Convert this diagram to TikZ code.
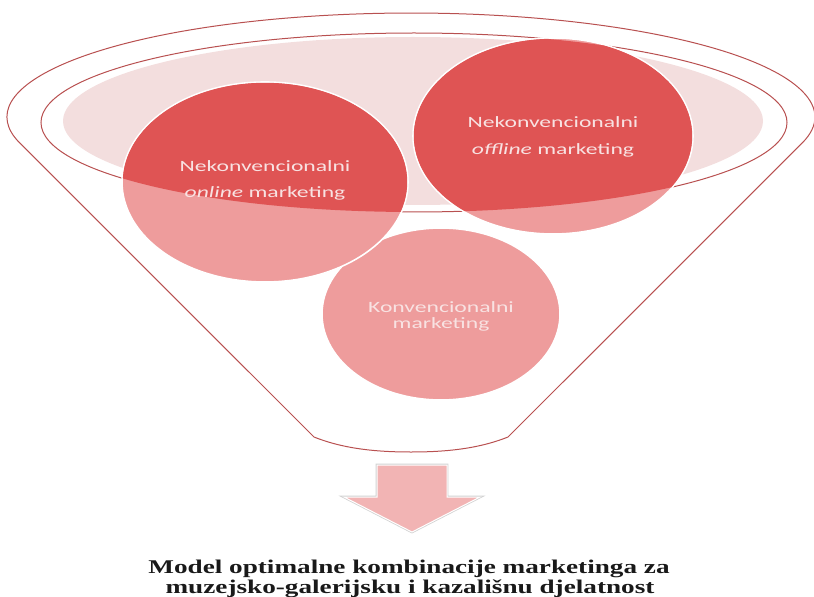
\documentclass[tikz,border=0pt]{standalone}
\usepackage{fontspec}
\setmainfont{Liberation Serif}
\newfontfamily\calfont{Carlito}
\usetikzlibrary{positioning}
\definecolor{poolred}{HTML}{DF5454}
\definecolor{softred}{HTML}{EE9C9C}
\definecolor{palepink}{HTML}{F3DEDE}
\definecolor{rimline}{HTML}{B85050}
\definecolor{arrowpink}{HTML}{F2B4B4}
\definecolor{arrowgray}{HTML}{D2D2D2}
\definecolor{lighttext}{HTML}{F8E2E2}
\newcommand{\wtxt}[1]{\scalebox{1.5}[1]{#1}}
\newcommand{\wcap}[1]{\scalebox{1.4}[1]{#1}}

\begin{document}
\begin{tikzpicture}[x=1bp,y=1bp,
  rim/.style={draw=rimline,line width=1bp},
  bubble/.style={draw=white,line width=1.6bp},
  intext/.style={font=\calfont\fontsize{15.8}{18}\selectfont,text=lighttext,inner sep=0pt,anchor=base},
  caption/.style={font=\bfseries\fontsize{19.5}{20}\selectfont,text=black!90,inner sep=0pt,anchor=base}
]
\useasboundingbox (0,0) rectangle (814,-597);
% pool and funnel
\fill[palepink] (413,-121) ellipse [x radius=350,y radius=84];
\draw[rim] (414,-122.5) ellipse [x radius=373,y radius=89.5];
\draw[rim] (19.7,-142.9) arc[start angle=194.4,end angle=-14.4,x radius=404,y radius=104]
  -- (508,-437) .. controls (478,-449) and (445,-452) .. (411,-452)
  .. controls (377,-452) and (344,-449) .. (314,-437) -- cycle;
% bubbles
\filldraw[softred,bubble] (441,-314) ellipse [x radius=119,y radius=86];
\filldraw[softred,bubble] (265,-182) ellipse [x radius=143,y radius=100];
\filldraw[softred,bubble] (553,-136) ellipse [x radius=140,y radius=98];
\begin{scope}
  \clip (414,-122.5) ellipse [x radius=373,y radius=89.5];
  \fill[poolred] (265,-182) ellipse [x radius=142.2,y radius=99.2];
  \fill[poolred] (553,-136) ellipse [x radius=139.2,y radius=97.2];
\end{scope}
% arrow down
\draw[arrowgray,line width=2.6bp] (377,-465) -- (447,-465) -- (447,-497) -- (480,-497) -- (412,-532) -- (344,-497) -- (377,-497) -- cycle;
\filldraw[fill=arrowpink,draw=white,line width=1bp] (377,-465) -- (447,-465) -- (447,-497) -- (480,-497) -- (412,-532) -- (344,-497) -- (377,-497) -- cycle;
% labels
\node[intext] (onA) at (265,-172) {\wtxt{Nekonvencionalni}};
\node[intext] (onB) at (265,-198) {\wtxt{\textit{online} marketing}};
\node[intext] (offA) at (553,-128) {\wtxt{Nekonvencionalni}};
\node[intext] (offB) at (553,-155) {\wtxt{\textit{offline} marketing}};
\node[intext] (convA) at (441,-312) {\wtxt{Konvencionalni}};
\node[intext] (convB) at (441,-328) {\wtxt{marketing}};
\node[caption] (capA) at (409,-573) {\wcap{Model optimalne kombinacije marketinga za}};
\node[caption] (capB) at (410,-593) {\wcap{muzejsko-galerijsku i kazališnu djelatnost}};
\end{tikzpicture}
\end{document}
